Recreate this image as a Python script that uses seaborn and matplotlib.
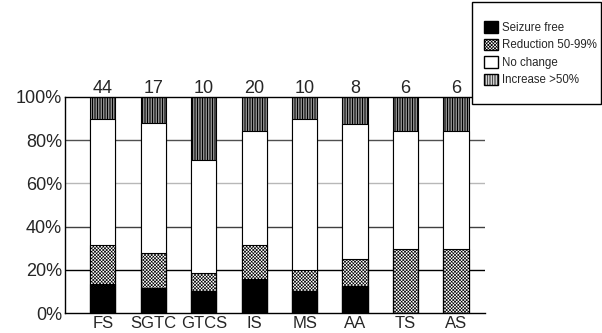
import matplotlib
matplotlib.use('Agg')
import matplotlib.pyplot as plt
import seaborn as sns
import numpy as np
from matplotlib.patches import Patch, Rectangle
from matplotlib.ticker import FuncFormatter

sns.set_style('white')
plt.rcParams['font.family'] = ['Liberation Sans', 'DejaVu Sans']

# values (percent of patients per seizure type)
categories = ['FS', 'SGTC', 'GTCS', 'IS', 'MS', 'AA', 'TS', 'AS']
counts = [44, 17, 10, 20, 10, 8, 6, 6]
seizure_free = [13.6, 11.8, 10.0, 15.8, 10.0, 12.5, 0.0, 0.0]
reduction = [18.1, 16.1, 8.7, 15.9, 10.0, 12.5, 29.7, 29.7]
no_change = [58.0, 60.0, 52.3, 52.5, 70.0, 62.5, 54.5, 54.5]
increase = [10.3, 12.1, 29.0, 15.8, 10.0, 12.5, 15.8, 15.8]

legend_labels = ['Seizure free', 'Reduction 50-99%', 'No change', 'Increase >50%']

stripe = '||||||||||'
cross = 'xxxxxxxxxx'

sf = np.array(seizure_free)
red = np.array(reduction)
nc = np.array(no_change)
inc = np.array(increase)
# (cumulative top, face, hatch, hatch line width)
layers = [
    (sf + red + nc + inc, 'white', stripe, 0.8),
    (sf + red + nc, 'white', None, 0.5),
    (sf + red, 'white', cross, 0.45),
    (sf, 'black', None, 0.5),
]

fig = plt.figure(figsize=(6.02, 3.33), dpi=100)
ax = fig.add_axes([0.108, 0.060, 0.698, 0.649])

for vals, col, hatch, hlw in layers:
    with plt.rc_context({'hatch.linewidth': hlw}):
        sns.barplot(x=categories, y=vals, order=categories, color=col, saturation=1,
                    width=0.5, edgecolor='black', linewidth=0.8, hatch=hatch,
                    errorbar=None, ax=ax)

for i, n in enumerate(counts):
    ax.text(i, 101.7, str(n), ha='center', va='baseline', fontsize=13, clip_on=False)

ax.set_xlim(-0.75, 7.58)
ax.set_ylim(0, 100)
ax.set_yticks([0, 20, 40, 60, 80, 100])
ax.yaxis.set_major_formatter(FuncFormatter(lambda v, p: f'{v:.0f}%'))
ax.tick_params(axis='y', labelsize=13, length=0, pad=2)
ax.tick_params(axis='x', labelsize=12, length=0, pad=2)
ax.set_xlabel('')
ax.set_ylabel('')

ax.set_axisbelow(True)
ax.yaxis.grid(True, linewidth=1)
grid_cols = ['none', '#000000', '#404040', '#b8b8b8', '#505050', 'none']
for gl, c in zip(ax.get_ygridlines(), grid_cols):
    gl.set_color(c)

for s in ['left', 'bottom', 'top']:
    ax.spines[s].set_color('black')
    ax.spines[s].set_linewidth(1)
ax.spines['right'].set_visible(False)

# legend box
fig.patches.append(Rectangle((0.784, 0.688), 0.2143, 0.306, transform=fig.transFigure,
                             facecolor='white', edgecolor='black', linewidth=1, zorder=5))
with plt.rc_context({'hatch.linewidth': 0.5}):
    handles = [
        Patch(facecolor='black', edgecolor='black'),
        Patch(facecolor='white', edgecolor='black', hatch=cross),
        Patch(facecolor='white', edgecolor='black'),
        Patch(facecolor='white', edgecolor='black', hatch=stripe),
    ]
    leg = fig.legend(handles, legend_labels, loc='upper left', bbox_to_anchor=(0.804, 0.936),
                     frameon=False, fontsize=8.3, handlelength=1.25, handleheight=1.15,
                     handletextpad=0.35, labelspacing=0.42, borderpad=0, borderaxespad=0)
leg.set_zorder(6)

fig.savefig('out.png', dpi=100)
